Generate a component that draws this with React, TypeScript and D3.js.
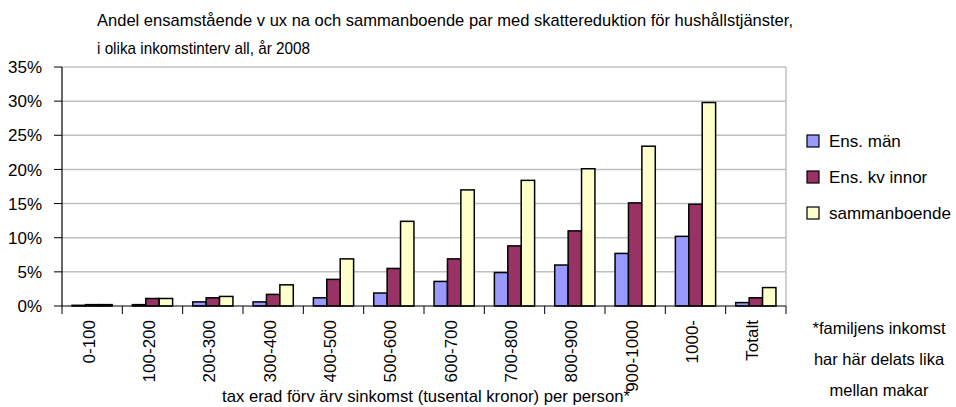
import React from 'react';
import * as d3 from 'd3';

// income intervals (tusental kronor)
const categories = ['0-100', '100-200', '200-300', '300-400', '400-500', '500-600', '600-700', '700-800', '800-900', '900-1000', '1000-', 'Totalt'];

const seriesNames = ['Ens. män', 'Ens. kv innor', 'sammanboende'];
const seriesColors = ['#9999ff', '#993366', '#ffffcc'];

// share with tax reduction, percent
const ensMan = [0.1, 0.2, 0.6, 0.6, 1.2, 1.9, 3.6, 4.9, 6.0, 7.7, 10.2, 0.5];
const ensKvinnor = [0.2, 1.1, 1.2, 1.7, 3.9, 5.5, 6.9, 8.8, 11.0, 15.1, 14.9, 1.2];
const sammanboende = [0.2, 1.1, 1.4, 3.1, 6.9, 12.4, 17.0, 18.4, 20.1, 23.4, 29.8, 2.7];

const yTicks = [0, 5, 10, 15, 20, 25, 30, 35];

const titleLines = [
    'Andel ensamstående v ux na och sammanboende par med skattereduktion för hushållstjänster,',
    'i olika inkomstinterv all, år 2008',
];
const xTitle = 'tax erad förv ärv sinkomst (tusental kronor) per person*';
const footnote = ['*familjens inkomst', 'har här delats lika', 'mellan makar'];

const W = 956, H = 407;
const left = 62, right = 786, top = 67, bottom = 306;
const font = '"Liberation Sans", Arial, sans-serif';

const App = () => {
    const values = [ensMan, ensKvinnor, sammanboende];

    const x0 = d3.scaleBand().domain(categories).range([left, right]);
    const groupW = x0.bandwidth() * 3 / 4.5; // excel gap width 150%
    const x1 = d3.scaleBand().domain(seriesNames).range([0, groupW]);
    const y = d3.scaleLinear().domain([0, 35]).range([bottom, top]);

    const boundaries = categories.map(c => x0(c)).concat([right]);

    return (
        <svg width={W} height={H} style={{ position: 'absolute', left: 0, top: 0, background: '#fff' }}
            fontFamily={font}>
            {/* title */}
            <text x={97} y={26} fontSize={17} fill="#000" textLength={696} lengthAdjust="spacingAndGlyphs">{titleLines[0]}</text>
            <text x={97} y={54} fontSize={17} fill="#000" textLength={213} lengthAdjust="spacingAndGlyphs">{titleLines[1]}</text>

            {/* grid */}
            {yTicks.map(t => (
                <line key={t} x1={left} x2={right} y1={y(t)} y2={y(t)}
                    stroke={t === 0 ? 'none' : '#c0c0c0'} strokeWidth={1.5} />
            ))}
            <line x1={right} x2={right} y1={top} y2={bottom} stroke="#c0c0c0" strokeWidth={1.5} />

            {/* y axis */}
            <line x1={left} x2={left} y1={top} y2={bottom} stroke="#000" strokeWidth={1.2} />
            {yTicks.map(t => (
                <g key={t}>
                    <line x1={left - 8} x2={left} y1={y(t)} y2={y(t)} stroke="#000" strokeWidth={1} />
                    <text x={42} y={y(t)} dy="0.36em" textAnchor="end" fontSize={17}>{t + '%'}</text>
                </g>
            ))}

            {/* bars */}
            {categories.map((c, i) => (
                <g key={c} transform={`translate(${x0(c) + (x0.bandwidth() - groupW) / 2},0)`}>
                    {seriesNames.map((s, j) => (
                        <rect key={s} x={x1(s)} y={y(values[j][i])} width={x1.bandwidth()}
                            height={bottom - y(values[j][i])} fill={seriesColors[j]}
                            stroke="#000" strokeWidth={1.5} />
                    ))}
                </g>
            ))}

            {/* x axis */}
            <line x1={left} x2={right} y1={bottom} y2={bottom} stroke="#000" strokeWidth={1.2} />
            {boundaries.map((b, i) => (
                <line key={i} x1={b} x2={b} y1={bottom} y2={bottom + 8} stroke="#000" strokeWidth={1} />
            ))}
            {categories.map(c => {
                const cx = x0(c) + x0.bandwidth() / 2 + 2.5;
                return (
                    <text key={c} transform={`translate(${cx},320) rotate(-90)`} textAnchor="end" fontSize={17}>{c}</text>
                );
            })}
            <text x={222} y={402} fontSize={17} textLength={408} lengthAdjust="spacingAndGlyphs">{xTitle}</text>

            {/* legend */}
            {seriesNames.map((s, j) => (
                <g key={s} transform={`translate(807,${135 + j * 36})`}>
                    <rect x={0} y={0} width={12} height={12} fill={seriesColors[j]} stroke="#000" strokeWidth={1.2} />
                    <text x={22} y={12} fontSize={17}>{s}</text>
                </g>
            ))}

            {/* footnote */}
            {footnote.map((l, i) => (
                <text key={i} x={879} y={334 + i * 31} textAnchor="middle" fontSize={16.5}>{l}</text>
            ))}
        </svg>
    );
};

export default App;
